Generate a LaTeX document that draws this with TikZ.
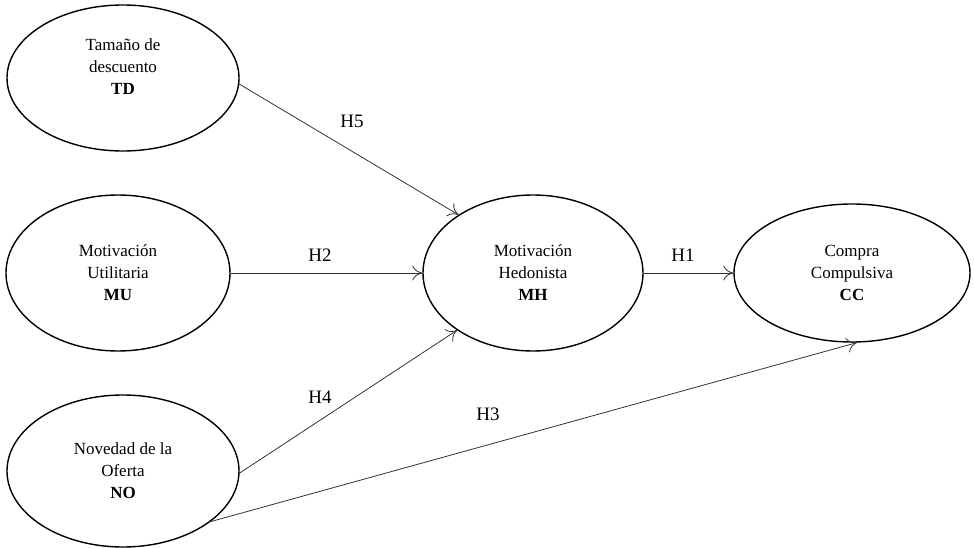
\documentclass[tikz,border=0pt]{standalone}
\usepackage{fontspec}
\setmainfont{Liberation Serif}
\usetikzlibrary{shapes,arrows.meta}

\begin{document}
\begin{tikzpicture}[x=1pt,y=-1pt]

		\useasboundingbox (0,0) rectangle (974,548);
		\tikzstyle{every node}=[font=\fontsize{17}{22}\selectfont]
		\tikzstyle{constructo}=[ellipse, draw, line width=1.4pt, inner sep=0pt, align=center]
		\tikzstyle{relacion}=[draw=black!80, line width=0.8pt, -{To[length=10pt,width=15pt]}]
		\tikzstyle{hipotesis}=[font=\fontsize{19}{22}\selectfont]

		% constructos
		\node[constructo, minimum width=232pt, minimum height=146pt] (td) at (123,78)
			{Tamaño de\\descuento\\\textbf{TD}\\\phantom{X}};
		\node[constructo, minimum width=224pt, minimum height=156pt] (mu) at (118,273)
			{Motivación\\Utilitaria\\\textbf{MU}};
		\node[constructo, minimum width=232pt, minimum height=152pt] (no) at (123,471)
			{Novedad de la\\Oferta\\\textbf{NO}};
		\node[constructo, minimum width=220pt, minimum height=156pt] (mh) at (533,273)
			{Motivación\\Hedonista\\\textbf{MH}};
		\node[constructo, minimum width=236pt, minimum height=138pt] (cc) at (852,273)
			{Compra\\Compulsiva\\\textbf{CC}};

		% hipotesis
		\draw[relacion] (td.-3.5) -- (mh.142);
		\draw[relacion] (mu.east) -- (mh.west);
		\draw[relacion] (no.-1) -- (mh.217);
		\draw[relacion] (mh.east) -- (cc.west);
		\draw[relacion] (no.-30) -- (cc.-86);

		\node[hipotesis] (h5) at (352,121) {H5};
		\node[hipotesis] (h2) at (320,255) {H2};
		\node[hipotesis] (h4) at (320,397) {H4};
		\node[hipotesis] (h1) at (683,255) {H1};
		\node[hipotesis] (h3) at (488,414) {H3};

\end{tikzpicture}
\end{document}
